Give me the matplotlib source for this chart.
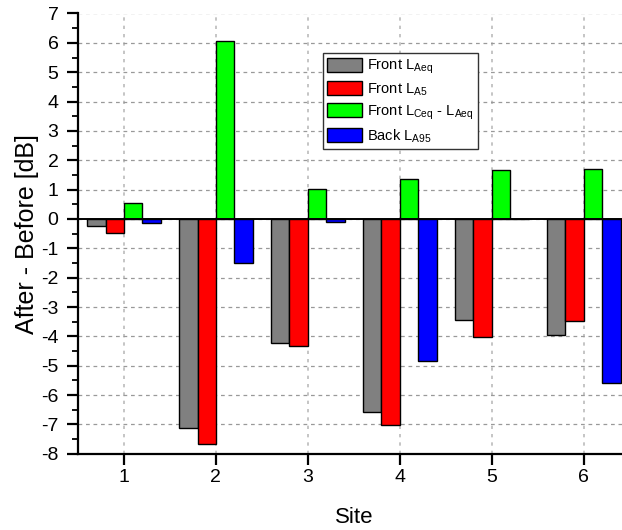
import matplotlib
matplotlib.use("Agg")
import matplotlib.pyplot as plt
import numpy as np

plt.rcParams['font.family'] = ['Liberation Sans', 'DejaVu Sans']
plt.rcParams['mathtext.fontset'] = 'custom'
plt.rcParams['mathtext.rm'] = 'Liberation Sans'
plt.rcParams['axes.unicode_minus'] = False

sites = [1, 2, 3, 4, 5, 6]
front_laeq = [-0.23, -7.12, -4.21, -6.58, -3.44, -3.94]
front_la5 = [-0.47, -7.68, -4.33, -7.02, -4.02, -3.49]
front_lceq_laeq = [0.53, 6.07, 1.02, 1.37, 1.67, 1.70]
back_la95 = [-0.14, -1.51, -0.09, -4.85, 0.0, -5.60]

series = [
    (front_laeq, '#808080', r'Front L$_{\mathregular{Aeq}}$'),
    (front_la5, '#FF0000', r'Front L$_{\mathregular{A5}}$'),
    (front_lceq_laeq, '#00FF00', r'Front L$_{\mathregular{Ceq}}$ - L$_{\mathregular{Aeq}}$'),
    (back_la95, '#0000FF', r'Back L$_{\mathregular{A95}}$'),
]

fig = plt.figure(figsize=(6.22, 5.30), dpi=100)
ax = fig.add_axes([78/622, 76.2/530, 551.7/622, 440.3/530])

x = np.array(sites, dtype=float)
w = 0.2
offsets = [-0.3, -0.1, 0.1, 0.3]
for (vals, col, lab), off in zip(series, offsets):
    ax.bar(x + off, vals, width=w, color=col, edgecolor='black', linewidth=1.0,
           label=lab, zorder=3)

ax.axhline(0, color='black', linewidth=1.4, zorder=4)

ax.set_xlim(0.5, 6.5)
ax.set_ylim(-8, 7)
ax.set_xticks(sites)
ax.set_yticks(np.arange(-8, 8, 1))
ax.set_yticks(np.arange(-7.5, 7, 1), minor=True)

ax.grid(True, which='major', axis='y', linestyle=(0, (3, 3)), color='#999999', linewidth=0.9, zorder=0)
ax.grid(True, which='major', axis='x', linestyle=(0, (2, 3)), color='#bbbbbb', linewidth=1.2, zorder=0)

for s in ['top', 'right']:
    ax.spines[s].set_visible(False)
ax.spines['left'].set_linewidth(1.6)
ax.spines['bottom'].set_linewidth(1.6)

ax.tick_params(axis='both', which='major', direction='out', length=8, width=1.6, labelsize=14)
ax.tick_params(axis='y', which='minor', direction='out', length=4.5, width=1.3)
ax.tick_params(axis='y', pad=6)
ax.tick_params(axis='x', pad=3)

ax.set_xlabel('Site', fontsize=16, labelpad=15)
ax.set_ylabel('After - Before [dB]', fontsize=18)
ax.yaxis.set_label_coords(-0.07, 0.5)

leg = ax.legend(loc='upper left', bbox_to_anchor=(0.444, 0.91), fontsize=10.5,
                fancybox=False, framealpha=1, edgecolor='#333333',
                handlelength=2.4, handleheight=1.1, borderpad=0.3,
                labelspacing=0.35, handletextpad=0.3, borderaxespad=0)
leg.get_frame().set_linewidth(1.0)
leg.set_zorder(10)

fig.savefig('out.png', dpi=100)
